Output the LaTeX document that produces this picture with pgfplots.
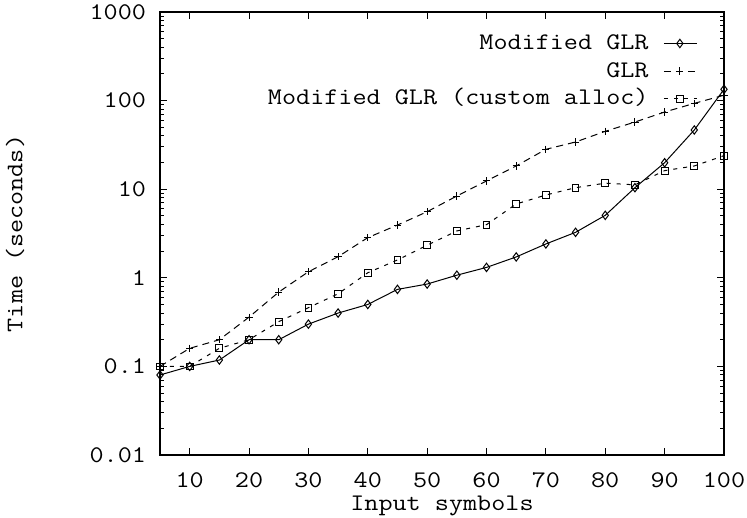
\documentclass[border=0pt]{standalone}
\usepackage{fontspec}
\setmainfont{Latin Modern Mono}[FakeStretch=1.15]
\usepackage{pgfplots}
\pgfplotsset{compat=1.18}
\begin{document}
\begin{tikzpicture}[font=\fontsize{11.9bp}{14bp}\selectfont]
\path[use as bounding box] (-80bp,-31.5bp) rectangle (293.5bp,227.5bp);
\begin{axis}[
  at={(0,0)}, anchor=south west,
  scale only axis, width=282bp, height=221.5bp,
  ymode=log, xmin=5, xmax=100, ymin=0.01, ymax=1000,
  xtick={10,20,...,100},
  ytick={0.01,0.1,1,10,100,1000},
  yticklabels={0.01,0.1,1,10,100,1000},
  /pgf/number format/assume math mode=true,
  tick align=inside,
  major tick length=3.5bp, minor tick length=2bp,
  axis line style={line width=0.6bp},
  every tick/.style={black, line width=0.5bp},
  xticklabel style={yshift=-5.5bp},
  yticklabel style={xshift=-3.5bp},
  xlabel={Input symbols},
  ylabel={Time (seconds)},
  every axis x label/.style={at={(axis description cs:0.5,-0.115)}, anchor=center},
  every axis y label/.style={at={(axis description cs:-0.257,0.5)}, rotate=90, anchor=center},
  clip=false,
  legend cell align=right,
  legend plot pos=right,
  legend style={at={(axis description cs:0.9535,0.961)}, anchor=north east, draw=none, fill=none, inner sep=0pt, row sep=0pt, column sep=6bp,
    nodes={inner sep=1.4bp, text height=8.5bp, text depth=2.5bp}},
  legend image code/.code={\draw[mark repeat=2,mark phase=2,#1] plot coordinates {(0bp,0bp) (8bp,0bp) (16.5bp,0bp)};},
]
\addplot[black, line width=0.5bp, mark=diamond, mark size=2.1bp, mark options={solid}] coordinates {
(5,0.080) (10,0.1) (15,0.118) (20,0.2) (25,0.2) (30,0.30) (35,0.40) (40,0.50) (45,0.74) (50,0.85)
(55,1.07) (60,1.31) (65,1.72) (70,2.41) (75,3.26) (80,5.07) (85,10.4) (90,19.9) (95,46.6) (100,134)
};
\addlegendentry{Modified GLR}
\addplot[black, line width=0.5bp, dash pattern=on 3.5bp off 2.5bp, mark=+, mark size=1.8bp, mark options={solid}] coordinates {
(5,0.1) (10,0.16) (15,0.2) (20,0.36) (25,0.69) (30,1.17) (35,1.73) (40,2.84) (45,3.94) (50,5.57)
(55,8.38) (60,12.4) (65,18.3) (70,28.2) (75,34.1) (80,45.0) (85,57.3) (90,74.3) (95,93.1) (100,115)
};
\addlegendentry{GLR}
\addplot[black, line width=0.5bp, dash pattern=on 2bp off 3bp, mark=square, mark size=1.7bp, mark options={solid}] coordinates {
(5,0.1) (10,0.1) (15,0.16) (20,0.2) (25,0.32) (30,0.46) (35,0.66) (40,1.14) (45,1.59) (50,2.33)
(55,3.38) (60,3.98) (65,6.81) (70,8.6) (75,10.4) (80,11.7) (85,11.2) (90,16.2) (95,18.3) (100,23.9)
};
\addlegendentry{Modified GLR (custom alloc)}
\end{axis}
\end{tikzpicture}
\end{document}
